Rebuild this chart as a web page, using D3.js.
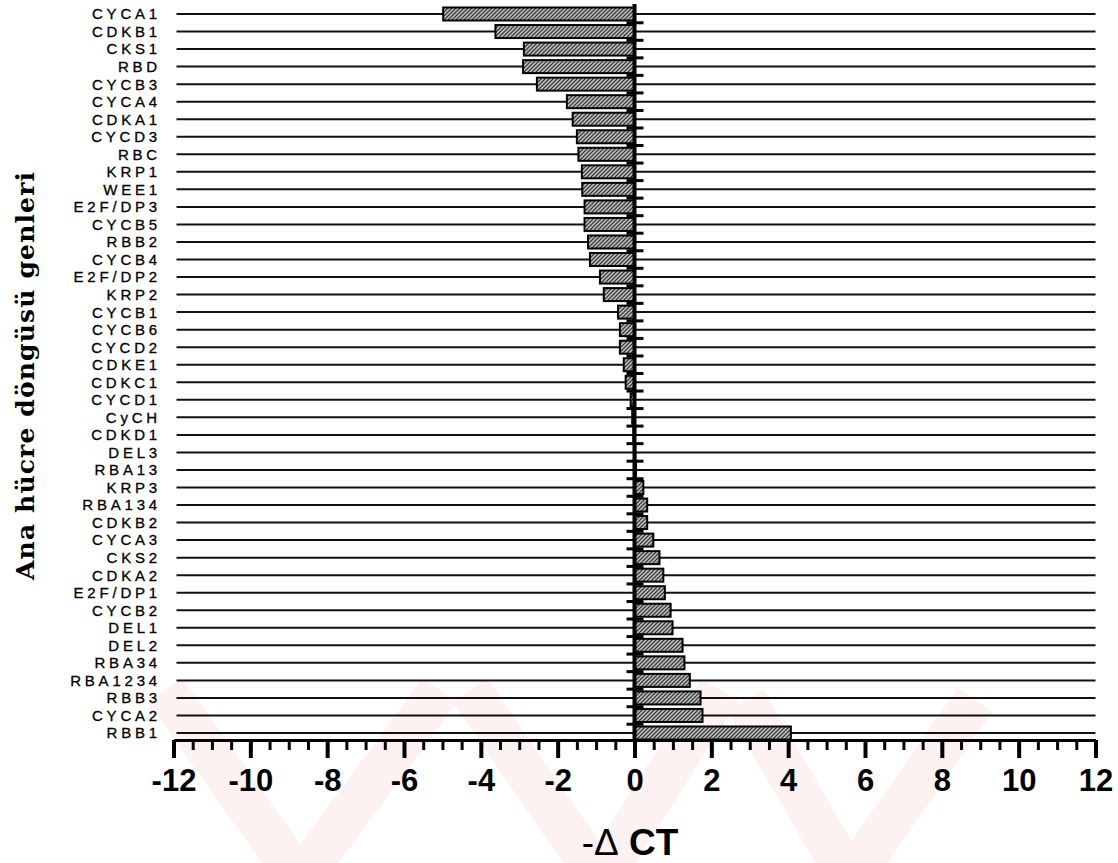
<!DOCTYPE html>
<html>
<head>
<meta charset="utf-8">
<script src="https://cdn.jsdelivr.net/npm/d3@7"></script>
<style>
  body { margin: 0; background: #fff; }
  svg { display: block; }
</style>
</head>
<body>
<svg id="chart" width="1118" height="863"></svg>
<script>
// gene names, top to bottom
var genes = ["CYCA1", "CDKB1", "CKS1", "RBD", "CYCB3", "CYCA4", "CDKA1", "CYCD3", "RBC", "KRP1",
	"WEE1", "E2F/DP3", "CYCB5", "RBB2", "CYCB4", "E2F/DP2", "KRP2", "CYCB1", "CYCB6", "CYCD2",
	"CDKE1", "CDKC1", "CYCD1", "CyCH", "CDKD1", "DEL3", "RBA13", "KRP3", "RBA134", "CDKB2",
	"CYCA3", "CKS2", "CDKA2", "E2F/DP1", "CYCB2", "DEL1", "DEL2", "RBA34", "RBA1234", "RBB3",
	"CYCA2", "RBB1"];

// -delta CT per gene
var deltaCT = [-4.98, -3.62, -2.88, -2.90, -2.54, -1.76, -1.61, -1.50, -1.46, -1.37,
	-1.36, -1.30, -1.30, -1.21, -1.16, -0.90, -0.80, -0.43, -0.38, -0.38,
	-0.28, -0.23, -0.10, -0.06, -0.03, 0.02, 0.04, 0.23, 0.33, 0.33,
	0.49, 0.65, 0.75, 0.79, 0.94, 0.99, 1.25, 1.30, 1.44, 1.72,
	1.77, 4.07];

var majorTicks = [-12, -10, -8, -6, -4, -2, 0, 2, 4, 6, 8, 10, 12];
var minorTicks = d3.range(-12, 12.01, 0.5);

var xTitle = ["-", "\u0394", " CT"];
var yTitle = "Ana hücre döngüsü genleri";

var svg = d3.select("#chart");

var x = d3.scaleLinear().domain([-12, 12]).range([173.5, 1095.5]);
var y = d3.scalePoint().domain(genes).range([14, 733]);
var axisY = 740;
var barH = 13;

// hatched fill for bars
var defs = svg.append("defs");
var pat = defs.append("pattern")
	.attr("id", "hatch")
	.attr("patternUnits", "userSpaceOnUse")
	.attr("width", 4).attr("height", 4);
pat.append("rect").attr("width", 4).attr("height", 4).attr("fill", "#c4c4c4");
pat.append("path")
	.attr("d", "M-1,1 l2,-2 M0,4 l4,-4 M3,5 l2,-2")
	.attr("stroke", "#3a3a3a").attr("stroke-width", 1.3);

defs.append("clipPath").attr("id", "wmclip")
	.append("rect").attr("x", 0).attr("y", 680).attr("width", 1118).attr("height", 183);

// faint watermark at the bottom of the scan
var watermark = [[165, 690, 300, 880], [300, 880, 440, 690], [470, 690, 600, 880],
	[600, 880, 720, 690], [745, 700, 850, 880], [850, 880, 975, 700]];
svg.append("g").attr("clip-path", "url(#wmclip)")
	.selectAll("line").data(watermark).enter().append("line")
	.attr("x1", function(d) { return d[0]; }).attr("y1", function(d) { return d[1]; })
	.attr("x2", function(d) { return d[2]; }).attr("y2", function(d) { return d[3]; })
	.attr("stroke", "#fef1f2").attr("stroke-width", 42);

// row lines
svg.append("g").selectAll("line").data(genes).enter().append("line")
	.attr("x1", x(-12) + 3).attr("x2", x(12))
	.attr("y1", function(d) { return y(d); })
	.attr("y2", function(d) { return y(d); })
	.attr("stroke", "#111").attr("stroke-width", 2);

// small ticks on the zero line between rows
var step = y.step();
svg.append("g").selectAll("line").data(genes.slice(0, -1)).enter().append("line")
	.attr("x1", x(0) - 8).attr("x2", x(0) + 9)
	.attr("y1", function(d) { return y(d) + step / 2; })
	.attr("y2", function(d) { return y(d) + step / 2; })
	.attr("stroke", "#000").attr("stroke-width", 3);

// bars
svg.append("g").selectAll("rect").data(genes).enter().append("rect")
	.attr("x", function(d, i) { return x(Math.min(0, deltaCT[i])); })
	.attr("width", function(d, i) { return Math.abs(x(deltaCT[i]) - x(0)); })
	.attr("y", function(d) { return y(d) - barH / 2; })
	.attr("height", barH)
	.attr("fill", "url(#hatch)")
	.attr("stroke", "#000").attr("stroke-width", 2);

// zero line
svg.append("line")
	.attr("x1", x(0)).attr("x2", x(0))
	.attr("y1", 4).attr("y2", axisY)
	.attr("stroke", "#000").attr("stroke-width", 4);

// category labels
svg.append("g").selectAll("text").data(genes).enter().append("text")
	.attr("x", 161)
	.attr("y", function(d) { return y(d); })
	.attr("dy", "0.36em")
	.attr("text-anchor", "end")
	.attr("font-family", "Arial, 'Liberation Sans', sans-serif")
	.attr("font-size", 15)
	.attr("letter-spacing", 3.8)
	.attr("fill", "#000")
	.attr("stroke", "#000").attr("stroke-width", 0.3)
	.text(function(d) { return d; });

// x axis, minor ticks
var minorAxis = svg.append("g")
	.attr("transform", "translate(0," + axisY + ")")
	.call(d3.axisBottom(x).tickValues(minorTicks).tickSize(10).tickSizeOuter(0).tickFormat(""));
minorAxis.selectAll(".tick line").attr("stroke", "#000").attr("stroke-width", 3);
minorAxis.select(".domain").remove();

// x axis, major ticks and labels
var majorAxis = svg.append("g")
	.attr("transform", "translate(0," + axisY + ")")
	.call(d3.axisBottom(x).tickValues(majorTicks).tickSize(18).tickSizeOuter(0)
		.tickFormat(function(d) { return String(d); }));
majorAxis.select(".domain").attr("stroke", "#000").attr("stroke-width", 3);
majorAxis.selectAll(".tick line").attr("stroke", "#000").attr("stroke-width", 4);
majorAxis.selectAll(".tick text")
	.attr("y", 51).attr("dy", 0)
	.attr("fill", "#000")
	.attr("font-family", "Arial, 'Liberation Sans', sans-serif")
	.attr("font-weight", "bold")
	.attr("font-size", 31);

// x title
var xt = svg.append("text")
	.attr("x", 630).attr("y", 855)
	.attr("text-anchor", "middle")
	.attr("font-family", "Arial, 'Liberation Sans', sans-serif")
	.attr("font-size", 37);
xt.selectAll("tspan").data(xTitle).enter().append("tspan")
	.attr("font-weight", function(d, i) { return i == 2 ? "bold" : "normal"; })
	.text(function(d) { return d; });

// y title
svg.append("text")
	.attr("transform", "translate(34,376) rotate(-90)")
	.attr("text-anchor", "middle")
	.attr("font-family", "'DejaVu Serif', serif")
	.attr("font-weight", "bold")
	.attr("font-size", 25)
	.attr("textLength", 408)
	.attr("lengthAdjust", "spacing")
	.text(yTitle);
</script>
</body>
</html>
